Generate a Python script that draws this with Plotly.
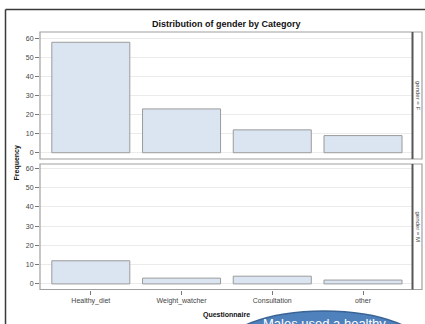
import plotly.graph_objects as go

# Frequency of each questionnaire category, split by gender
categories = ["Healthy_diet", "Weight_watcher", "Consultation", "other"]
freq_female = [58, 23, 12, 9]
freq_male = [12, 3, 4, 2]
y_ticks = [0, 10, 20, 30, 40, 50, 60]

W, H = 425, 324


def px(x):
    return x / W


def py(y):
    return 1 - y / H


FONT = "Liberation Sans, Arial, sans-serif"
BAR_FILL = "#dbe4f1"
BAR_LINE = "#9b9b9b"
GRID = "#ebebeb"
FRAME = "#a0a0a0"

fig = go.Figure()
fig.add_trace(go.Bar(x=categories, y=freq_female, xaxis="x", yaxis="y",
                     marker=dict(color=BAR_FILL, line=dict(color=BAR_LINE, width=1))))
fig.add_trace(go.Bar(x=categories, y=freq_male, xaxis="x2", yaxis="y2",
                     marker=dict(color=BAR_FILL, line=dict(color=BAR_LINE, width=1))))

x_dom = [px(40), px(412)]
x_range = [-0.56, 3.54]
top_dom = [py(159), py(32)]
bot_dom = [py(289.5), py(164)]

yaxis_common = dict(tickvals=y_ticks, ticks="outside", ticklen=4, tickcolor="#777",
                    tickfont=dict(size=7, color="#444", family=FONT),
                    showgrid=True, gridcolor=GRID, gridwidth=1, zeroline=False,
                    showline=False)

fig.update_layout(
    width=W, height=H,
    margin=dict(l=0, r=0, t=0, b=0),
    paper_bgcolor="white", plot_bgcolor="white",
    showlegend=False, bargap=0.14,
    font=dict(family=FONT),
    xaxis=dict(domain=x_dom, anchor="y", range=x_range, showticklabels=False, ticks="",
               showgrid=False, zeroline=False, showline=False,
               categoryorder="array", categoryarray=categories),
    xaxis2=dict(domain=x_dom, anchor="y2", range=x_range, ticks="outside", ticklen=4,
                tickcolor="#777", tickfont=dict(size=7, color="#444", family=FONT),
                showgrid=False, zeroline=False, showline=False,
                categoryorder="array", categoryarray=categories),
    yaxis=dict(domain=top_dom, range=[-3.3, 63.4], anchor="x", **yaxis_common),
    yaxis2=dict(domain=bot_dom, range=[-2.9, 62.2], anchor="x2", **yaxis_common),
)

shapes = []
# outer graph frame
shapes.append(dict(type="line", xref="paper", yref="paper", x0=px(5.5), x1=px(430),
                   y0=py(9.5), y1=py(9.5), line=dict(color="#3a3a3a", width=1.5)))
shapes.append(dict(type="line", xref="paper", yref="paper", x0=px(5.5), x1=px(5.5),
                   y0=py(9.5), y1=py(330), line=dict(color="#3a3a3a", width=1.5)))
# panel cells with strip separators
for top, bot in [(32, 159), (164, 289.5)]:
    shapes.append(dict(type="rect", xref="paper", yref="paper", x0=px(40), x1=px(422),
                       y0=py(bot), y1=py(top), line=dict(color=FRAME, width=1.2)))
    shapes.append(dict(type="line", xref="paper", yref="paper", x0=px(412.5), x1=px(412.5),
                       y0=py(bot), y1=py(top), line=dict(color="#555", width=2)))
# blue callout bubble
shapes.append(dict(type="circle", xref="paper", yref="paper", x0=px(221), x1=px(427),
                   y0=py(391), y1=py(311), fillcolor="#4f81bd",
                   line=dict(color="#3a6496", width=1.5)))
fig.update_layout(shapes=shapes)

ann = []
ann.append(dict(text="<b>Distribution of gender by Category</b>", x=px(226), y=py(24),
                xref="paper", yref="paper", showarrow=False, xanchor="center", yanchor="middle",
                font=dict(size=9, color="#111", family=FONT)))
ann.append(dict(text="<b>Frequency</b>", x=px(16.5), y=py(163), xref="paper", yref="paper",
                showarrow=False, textangle=-90, xanchor="center", yanchor="middle",
                font=dict(size=7, color="#111", family=FONT)))
ann.append(dict(text="<b>Questionnaire</b>", x=px(226), y=py(315), xref="paper", yref="paper",
                showarrow=False, xanchor="center", yanchor="middle",
                font=dict(size=7, color="#111", family=FONT)))
for label, yc in [("gender = F", 95.5), ("gender = M", 227)]:
    ann.append(dict(text=label, x=px(417.5), y=py(yc), xref="paper", yref="paper",
                    showarrow=False, textangle=90, xanchor="center", yanchor="middle",
                    font=dict(size=6, color="#444", family=FONT)))
ann.append(dict(text="Males used a healthy", x=px(324), y=py(323), xref="paper", yref="paper",
                showarrow=False, xanchor="center", yanchor="middle",
                font=dict(size=13, color="white", family=FONT)))
fig.update_layout(annotations=ann)

fig.write_html("out.html")
